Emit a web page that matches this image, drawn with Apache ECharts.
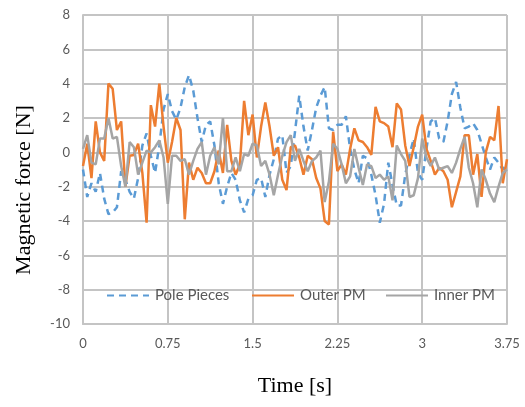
<!DOCTYPE html>
<html>
<head>
<meta charset="utf-8">
<script src="https://cdn.jsdelivr.net/npm/echarts@6/dist/echarts.min.js"></script>
<style>
  html, body { margin: 0; padding: 0; background: #fff; }
  #chart { width: 525px; height: 407px; }
</style>
</head>
<body>
<div id="chart"></div>
<script>
// sample step of the time series [s]
var dt = 0.0375;

var polePieces = [
  -1.0, -2.6, -1.8, -2.3, -1.2, -2.7, -3.6, -3.5, -3.2, -1.1,
  -1.6, -2.3, -2.7, -1.5, 0.4, 1.1, -0.2, -1.2, 0.4, 2.5,
  3.4, 2.4, 1.9, 2.6, 3.8, 4.5, 3.6, 2.0, 0.6, 1.6,
  1.8, 0.4, -1.8, -3.0, -2.0, -1.2, -1.6, -2.8, -3.5, -2.7,
  -2.5, -1.6, -1.5, -2.6, -1.3, -0.4, 0.8, 1.0, -1.2, -0.8,
  1.2, 3.3, 1.5, 0.1, 1.3, 2.6, 3.3, 3.8, 1.4, 1.3,
  1.6, 1.6, 2.1, 0.2, -1.0, -1.8, -0.2, -0.35, -1.3, -2.5,
  -4.1, -3.0, -0.6, -1.9, -3.1, -3.1, -1.3, -0.15, 0.8, -1.2,
  -1.6, 0.2, 1.8, 2.0, 0.8, 0.6, 1.8, 3.4, 4.1, 2.6,
  1.4, 1.5, 1.7, 1.3, 0.5, -0.3, -1.0, -0.3, -0.6, -1.0,
  -0.7
];

var outerPM = [
  -0.8, 0.5, -1.5, 1.8, 0.0, -0.5, 4.0, 3.7, 1.3, 1.8,
  -2.0, -0.2, -0.15, 0.5, -1.2, -4.1, 2.75, 1.5, 4.0, 1.5,
  -0.6, 0.6, 2.0, 1.3, -3.9, -0.6, -1.6, -0.9, -1.2, -1.8,
  -1.8, -1.1, 0.1, -1.2, 1.6, -0.5, -1.3, -0.7, 3.0, 1.0,
  2.2, -0.3, 1.5, 2.9, 1.5, -0.2, 0.3, -1.6, -2.2, 0.3,
  0.4, -0.3, -1.3, -0.2, -0.4, -1.5, -2.1, -4.0, -4.2, 1.2,
  -1.1, -0.7, -1.3, 0.2, 1.4, 0.7, 0.6, 0.3, -0.15, 2.65,
  1.8, 1.7, 1.5, 0.3, 2.85, 2.5, 0.4, -0.8, 0.3, 1.5,
  2.2, 0.2, -0.5, -1.3, -0.9, -1.1, -1.6, -3.2, -2.3, -1.4,
  1.0, 1.0, -1.3, -0.1, -2.6, 0.0, 0.9, 0.7, 2.7, -1.8,
  -0.4
];

var innerPM = [
  0.2, 1.0, -0.6, -0.7, 0.8, 0.8, 2.0, 0.8, 0.9, -0.8,
  -2.0, 0.6, 0.3, -1.3, -0.6, 0.1, 0.0, 0.3, 0.7, -0.3,
  -3.0, -0.2, -0.2, -0.5, -0.4, -1.3, -0.5, 0.2, 0.6, -1.3,
  -0.2, 0.3, -0.7, 2.0, -1.1, -1.1, -0.3, -1.1, -0.1, -0.2,
  0.5, 0.4, -0.8, -0.5, -1.3, -2.5, -1.3, -0.2, 0.6, 1.0,
  -0.5, 0.2, -0.5, -1.1, -0.5, -0.3, 0.1, -2.9, -1.7, 0.5,
  0.2, -0.7, -1.8, -1.4, 0.2, -0.9, -1.9, -0.7, -0.8, -1.5,
  -1.3, -1.6, -1.4, -2.8, 0.4, -0.1, -0.5, -2.6, -2.5, -1.5,
  0.8, -0.3, -0.8, -0.3, -1.0, -0.9, -0.8, -1.2, -0.6, 0.2,
  0.9, -0.9, -1.8, -3.2, -1.0, -1.6, -2.4, -2.9, -2.0, -1.2,
  -1.0
];

var seriesNames = ['Pole Pieces', 'Outer PM', 'Inner PM'];
var xTicks = { min: 0, max: 3.75, interval: 0.75 };
var yTicks = { min: -10, max: 8, interval: 2 };

function pairs(vals) {
  return vals.map(function (v, i) { return [i * dt, v]; });
}

var gridColor = '#c4c4c4';
var labelColor = '#595959';

var chart = echarts.init(document.getElementById('chart'), null, { renderer: 'canvas' });

var option = {
  animation: false,
  backgroundColor: '#ffffff',
  grid: { left: 83, right: 18, top: 15, bottom: 83, containLabel: false, outerBoundsMode: 'none' },
  xAxis: {
    type: 'value',
    min: xTicks.min, max: xTicks.max, interval: xTicks.interval,
    axisLine: { onZero: false, lineStyle: { color: gridColor, width: 2 } },
    axisTick: { show: false },
    axisLabel: { color: labelColor, fontSize: 13, fontFamily: 'Lato', margin: 13 },
    splitLine: { show: true, lineStyle: { color: gridColor, width: 2 } }
  },
  yAxis: {
    type: 'value',
    min: yTicks.min, max: yTicks.max, interval: yTicks.interval,
    axisLine: { show: true, onZero: false, lineStyle: { color: gridColor, width: 2 } },
    axisTick: { show: false },
    axisLabel: { color: labelColor, fontSize: 13, fontFamily: 'Lato', margin: 13 },
    splitLine: { show: true, lineStyle: { color: gridColor, width: 2 } }
  },
  // one legend per item so each sits where the original has it
  legend: [
    { data: [seriesNames[0]], left: 106, top: 288 },
    { data: [seriesNames[1]], left: 251, top: 288 },
    { data: [seriesNames[2]], left: 385, top: 288 }
  ].map(function (l) {
    l.itemWidth = 42;
    l.itemHeight = 14;
    l.itemGap = 0;
    l.padding = 0;
    l.itemStyle = { color: 'rgba(0,0,0,0)', borderWidth: 0 };
    l.textStyle = { color: labelColor, fontSize: 15, fontFamily: 'Lato', padding: [0, 0, 0, 1] };
    return l;
  }),
  graphic: [
    {
      type: 'text', x: 24, y: 190, rotation: Math.PI / 2,
      style: { text: 'Magnetic force [N]', font: '22px "Liberation Serif"', fill: '#000', align: 'center', verticalAlign: 'middle' }
    },
    {
      type: 'text', x: 295, y: 386,
      style: { text: 'Time [s]', font: '22px "Liberation Serif"', fill: '#000', align: 'center', verticalAlign: 'middle' }
    }
  ],
  series: [
    {
      name: seriesNames[0], type: 'line', data: pairs(polePieces),
      symbol: 'none', color: '#5b9bd5',
      lineStyle: { color: '#5b9bd5', width: 2.5, type: [7, 5] }
    },
    {
      name: seriesNames[1], type: 'line', data: pairs(outerPM),
      symbol: 'none', color: '#ed7d31',
      lineStyle: { color: '#ed7d31', width: 2.5 }
    },
    {
      name: seriesNames[2], type: 'line', data: pairs(innerPM),
      symbol: 'none', color: '#a5a5a5',
      lineStyle: { color: '#a5a5a5', width: 2.5 }
    }
  ]
};

chart.setOption(option);
</script>
</body>
</html>
